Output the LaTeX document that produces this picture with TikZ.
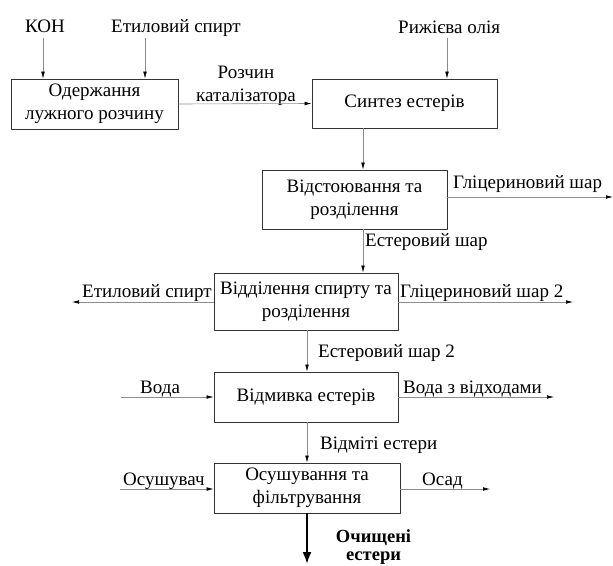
\documentclass[tikz,border=0pt]{standalone}
\usepackage{fontspec}
\setmainfont{Liberation Serif}
\usetikzlibrary{arrows.meta}
\begin{document}
\begin{tikzpicture}[x=1pt, y=-1pt, line join=round,
	font=\fontsize{19}{23}\selectfont,
	box/.style={draw=black!80, line width=0.7pt, rectangle, align=center, inner sep=0pt},
	lbl/.style={inner sep=0pt, anchor=base west},
	flow/.style={draw=black!45, line width=0.6pt, -{Latex[black, length=7pt, width=3.6pt]}}]
	\useasboundingbox (0,0) rectangle (613,565);
	%Các khối
	\node[box, minimum width=167pt, minimum height=50pt] (lug) at (94.5,104) {Одержання\\лужного розчину};
	\node[box, minimum width=185pt, minimum height=49pt] (sint) at (404.5,103.5) {Синтез естерів};
	\node[box, minimum width=185pt, minimum height=59pt] (vidst) at (354.5,199.5) {Відстоювання та\\розділення};
	\node[box, minimum width=184pt, minimum height=57pt] (vidsp) at (306,301.5) {Відділення спирту та\\розділення};
	\node[box, minimum width=184pt, minimum height=50pt] (vidm) at (306,397) {Відмивка естерів};
	\node[box, minimum width=186pt, minimum height=50pt] (osush) at (307,488) {Осушування та\\фільтрування};
	%Các nhãn
	\node[lbl] (koh) at (25,32) {КОН};
	\node[lbl] (spirt) at (111,32) {Етиловий спирт};
	\node[lbl] (olia) at (398,33) {Рижієва олія};
	\node[inner sep=0pt, align=center] (kat) at (246,86) {Розчин\\каталізатора};
	\node[lbl] (glits) at (453,188) {Гліцериновий шар};
	\node[lbl] (ester) at (365,246) {Естеровий шар};
	\node[lbl] (spirtb) at (82,297) {Етиловий спирт};
	\node[lbl] (glitsb) at (400,297) {Гліцериновий шар 2};
	\node[lbl] (esterb) at (318,357) {Естеровий шар 2};
	\node[lbl] (voda) at (140,393) {Вода};
	\node[lbl] (vodav) at (403,393) {Вода з відходами};
	\node[lbl] (vidmit) at (320,449) {Відміті естери};
	\node[lbl] (osuv) at (123,485) {Осушувач};
	\node[lbl] (osad) at (422,485) {Осад};
	\node[inner sep=0pt, align=center, font=\fontsize{18.5}{18.5}\selectfont\bfseries] (ochyst) at (373.5,547) {Очищені\\естери};
	%Các điểm đầu mút
	\coordinate (a1) at (43,38);
	\coordinate (a2) at (145,38);
	\coordinate (a3) at (447,38);
	\coordinate (c1) at (363,0);
	\coordinate (c2) at (307,0);
	\coordinate (e1) at (613,197);
	\coordinate (e2) at (72,302);
	\coordinate (e3) at (573,302);
	\coordinate (e4) at (121,397);
	\coordinate (e5) at (554,397);
	\coordinate (e6) at (120,489);
	\coordinate (e7) at (490,489);
	\coordinate (e8) at (307,564);
	%Các mũi tên
	\foreach \p in {a1,a2} \draw[flow] (\p) -- (\p |- lug.north);
	\draw[flow] (a3) -- (a3 |- sint.north);
	\draw[flow] (lug.east) -- (sint.west);
	\draw[flow] (sint.south -| c1) -- (vidst.north -| c1);
	\draw[flow] (vidst.south -| c1) -- (vidsp.north -| c1);
	\draw[flow] (vidst.east |- e1) -- (e1);
	\draw[flow] (vidsp.west |- e2) -- (e2);
	\draw[flow] (vidsp.east |- e3) -- (e3);
	\draw[flow] (vidsp.south -| c2) -- (vidm.north -| c2);
	\draw[flow] (e4) -- (e4 -| vidm.west);
	\draw[flow] (vidm.east |- e5) -- (e5);
	\draw[flow] (vidm.south -| c2) -- (osush.north -| c2);
	\draw[flow] (e6) -- (e6 -| osush.west);
	\draw[flow] (osush.east |- e7) -- (e7);
	\draw[line width=2pt, -{Latex[length=12pt, width=9pt]}] (osush.south -| e8) -- (e8);
\end{tikzpicture}
\end{document}
